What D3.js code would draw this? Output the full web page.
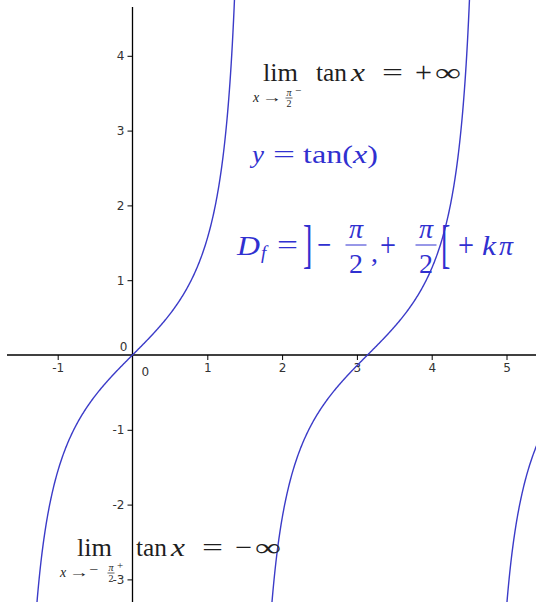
<!DOCTYPE html>
<html>
<head>
<meta charset="utf-8">
<script src="https://cdn.jsdelivr.net/npm/d3@7"></script>
<style>
  html, body { margin: 0; padding: 0; background: #fff; }
  svg { display: block; }
  .tick text { font-family: "DejaVu Sans", sans-serif; font-size: 12px; fill: #333; }
  .math { font-family: "Liberation Serif", "Times New Roman", serif; }
</style>
</head>
<body>
<svg id="chart" width="536" height="602"></svg>
<script>
// Visible window of the plane (math units)
const xDomain = [-1.68, 5.39];
const yDomain = [-3.31, 4.66];

// Tick values on both axes
const xTicks = [-1, 1, 2, 3, 4, 5];
const yTicks = [-3, -2, -1, 1, 2, 3, 4];

// Branches of y = tan(x): one per period, centred on k·π
const kValues = [0, 1, 2];
const samplesPerBranch = 400;

const W = 536, H = 602;
const originX = 132.5, originY = 355, unit = 74.8;

const x = d3.scaleLinear()
  .domain(xDomain)
  .range([originX + xDomain[0] * unit, originX + xDomain[1] * unit]);
const y = d3.scaleLinear()
  .domain(yDomain)
  .range([originY - yDomain[0] * unit, originY - yDomain[1] * unit]);

const svg = d3.select("#chart");

svg.append("defs").append("clipPath").attr("id", "plot-clip")
  .append("rect").attr("x", 0).attr("y", 0).attr("width", W).attr("height", H);

// Axes crossing at the origin
const xAxis = d3.axisBottom(x).tickValues(xTicks).tickSize(5).tickPadding(3)
  .tickFormat(d3.format("d"));
const yAxis = d3.axisLeft(y).tickValues(yTicks).tickSize(5).tickPadding(3)
  .tickFormat(d3.format("d"));

const gx = svg.append("g").attr("transform", `translate(0,${y(0)})`).call(xAxis);
const gy = svg.append("g").attr("transform", `translate(${x(0)},0)`).call(yAxis);
[gx, gy].forEach(g => {
  g.select(".domain").remove();
  g.selectAll(".tick line").attr("stroke", "#000").attr("stroke-width", 1);
  g.selectAll(".tick text").text(d => d < 0 ? "-" + Math.abs(d) : d);
});

// Axis lines
svg.append("line")
  .attr("x1", 7).attr("x2", W).attr("y1", y(0)).attr("y2", y(0))
  .attr("stroke", "#000").attr("stroke-width", 1.3);
svg.append("line")
  .attr("x1", x(0)).attr("x2", x(0)).attr("y1", 7).attr("y2", H)
  .attr("stroke", "#000").attr("stroke-width", 1.3);

// Origin labels
svg.append("text").attr("x", x(0) + 9).attr("y", y(0) + 21)
  .attr("font-family", "DejaVu Sans, sans-serif").attr("font-size", 12)
  .attr("fill", "#333").text("0");
svg.append("text").attr("x", x(0) - 5).attr("y", y(0) - 4)
  .attr("text-anchor", "end")
  .attr("font-family", "DejaVu Sans, sans-serif").attr("font-size", 12)
  .attr("fill", "#333").text("0");

// Curve: y = tan(x), sampled on each open interval ]kπ − π/2, kπ + π/2[
const line = d3.line().x(d => x(d[0])).y(d => y(d[1]));
const yLo = yDomain[0] - 1, yHi = yDomain[1] + 1;
kValues.forEach(k => {
  const a = k * Math.PI - Math.PI / 2, b = k * Math.PI + Math.PI / 2;
  const pts = [];
  for (let i = 1; i < samplesPerBranch; i++) {
    const t = a + (b - a) * i / samplesPerBranch;
    const v = Math.tan(t);
    if (v >= yLo && v <= yHi && t >= xDomain[0] - 0.2 && t <= xDomain[1] + 0.2) pts.push([t, v]);
  }
  svg.append("path")
    .attr("clip-path", "url(#plot-clip)")
    .attr("d", line(pts))
    .attr("fill", "none")
    .attr("stroke", "#3b3bc8")
    .attr("stroke-width", 1.4);
});

// Formula helper: places one piece of math text, optionally stretched to a width
function put(str, px, py, size, color, opts = {}) {
  const t = svg.append("text")
    .attr("class", "math")
    .attr("x", px).attr("y", py)
    .attr("font-size", size)
    .attr("fill", color)
    .attr("font-style", opts.italic ? "italic" : "normal")
    .text(str);
  if (opts.anchor) t.attr("text-anchor", opts.anchor);
  if (opts.len) t.attr("textLength", opts.len).attr("lengthAdjust", "spacingAndGlyphs");
  return t;
}
// Display fraction: numerator, bar, denominator
function frac(num, den, cx, barY, size, color, barW, numGap, denGap) {
  put(num, cx, barY - numGap, size, color, { anchor: "middle", italic: true });
  put(den, cx, barY + denGap, size, color, { anchor: "middle" });
  svg.append("line").attr("x1", cx - barW / 2).attr("x2", cx + barW / 2)
    .attr("y1", barY).attr("y2", barY).attr("stroke", color).attr("stroke-width", size > 15 ? 1 : 0.7);
}
// Tall delimiter: one glyph stretched vertically around its baseline
function delim(str, px, py, size, sy, color) {
  svg.append("text")
    .attr("class", "math")
    .attr("transform", `translate(${px},${py}) scale(1,${sy})`)
    .attr("font-size", size)
    .attr("fill", color)
    .text(str);
}

const black = "#1e1e1e", blue = "#3030d0";

// Limit formula: "lim" over a subscript, then "tan x = ±∞"
function limitFormula(lx, tx, by, arrowSign, sideSign, infSign, sub) {
  put("lim", lx, by, 25, black, { len: 35 });
  put("x", sub.x, by + 21, 14, black, { italic: true });
  put("→", sub.x + 9, by + 21, 14, black, { len: 20 });
  let fx = sub.x + 36;
  if (arrowSign) {
    put(arrowSign, sub.x + 29, by + 18, 13, black, { len: 9 });
    fx = sub.x + 51;
  }
  frac("π", "2", fx, by + 17, 10, black, 7, 2.5, 9);
  put(sideSign, fx + 6, by + 13, 11, black);
  put("tan", tx, by, 25, black, { len: 31 });
  put("x", tx + 35, by, 25, black, { italic: true, len: 14 });
  put("=", tx + 66, by, 25, black, { len: 21 });
  put(infSign, tx + 99, by + 1, 29, black, { len: 17 });
  put("∞", tx + 119, by, 25, black, { len: 26 });
}

// lim x→π/2⁻ tan x = +∞
limitFormula(263, 316, 81, null, "−", "+", { x: 253 });
// lim x→−π/2⁺ tan x = −∞
limitFormula(77, 136, 556, "−", "+", "−", { x: 60 });

// y = tan(x)
put("y", 252, 163, 26, blue, { italic: true, len: 12 });
put("=", 273, 163, 26, blue, { len: 22 });
const tline = svg.append("text").attr("class", "math")
  .attr("x", 303).attr("y", 163).attr("font-size", 26).attr("fill", blue)
  .attr("textLength", 75).attr("lengthAdjust", "spacingAndGlyphs");
tline.append("tspan").text("tan(");
tline.append("tspan").attr("font-style", "italic").text("x");
tline.append("tspan").text(")");

// D_f = ]−π/2 , +π/2[ + kπ
put("D", 237, 255, 28, blue, { italic: true, len: 23 });
put("f", 261, 259, 19, blue, { italic: true });
put("=", 277, 254, 28, blue, { len: 21 });
delim("]", 303, 262, 28, 1.85, blue);
put("−", 317, 256, 34, blue, { len: 14 });
frac("π", "2", 356, 245, 28, blue, 21, 7, 28);
put(",", 371, 262, 28, blue);
put("+", 380, 256, 34, blue, { len: 16 });
frac("π", "2", 426, 245, 28, blue, 21, 7, 28);
delim("[", 441, 262, 28, 1.85, blue);
put("+", 458, 256, 34, blue, { len: 16 });
put("k", 482, 255, 28, blue, { italic: true, len: 14 });
put("π", 499, 255, 28, blue, { italic: true, len: 14 });
</script>
</body>
</html>
